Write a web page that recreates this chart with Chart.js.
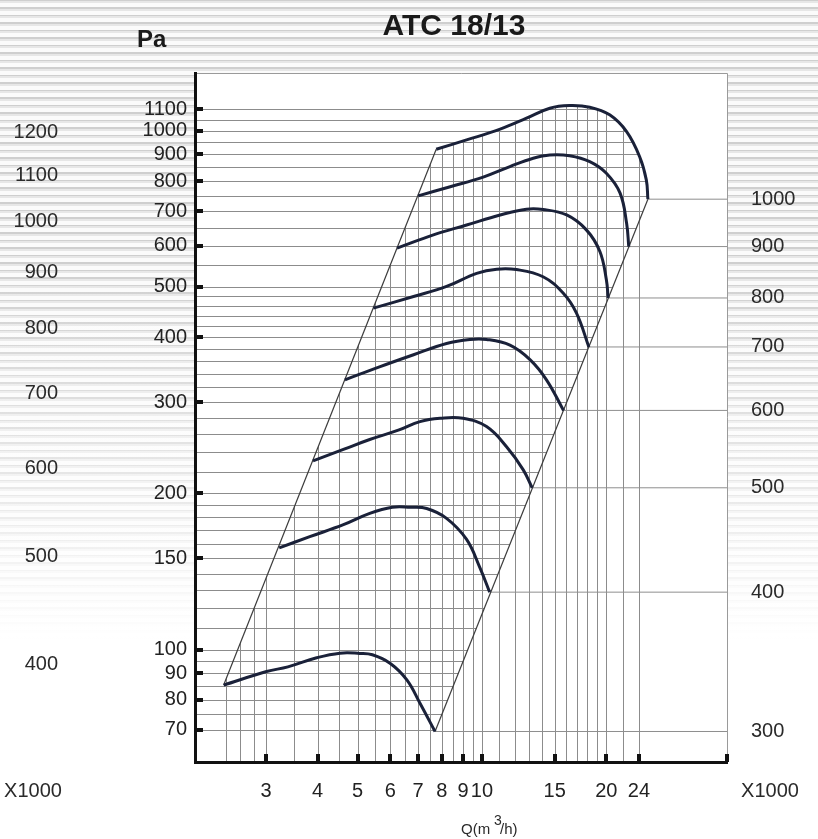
<!DOCTYPE html>
<html>
<head>
<meta charset="utf-8">
<title>ATC 18/13</title>
<script src="https://cdn.jsdelivr.net/npm/chart.js@4.4.1/dist/chart.umd.min.js"></script>
<style>
  html, body { margin: 0; padding: 0; }
  body {
    width: 818px;
    height: 839px;
    background:
      linear-gradient(to bottom, rgba(255,255,255,0) 260px, rgba(255,255,255,0.55) 500px, #fff 640px),
      repeating-linear-gradient(to bottom, #cfcfcf 0, #cfcfcf 1.5px, #e7e7e7 1.5px, #e7e7e7 3.5px, #fbfbfb 3.5px, #fbfbfb 7.5px);
  }
  canvas { display: block; }
</style>
</head>
<body>
<canvas id="chart" width="818" height="839"></canvas>
<script>
// Q in 1000 m3/h, P in Pa, one curve per fan speed
const CURVE_1000 = [[7.75, 921], [9.18, 960], [11.07, 1007], [12.82, 1057], [14.6, 1105], [16.3, 1118], [18.24, 1110], [20.38, 1073], [22.4, 996], [24.09, 891], [25.0, 804], [25.22, 738]]
const CURVE_900 = [[7.01, 749], [8.38, 780], [10.07, 814], [11.69, 853], [13.31, 885], [14.6, 898], [16.3, 895], [18.24, 872], [20.01, 828], [21.6, 758], [22.4, 663], [22.67, 598]]
const CURVE_800 = [[6.23, 594], [7.63, 630], [9.18, 658], [11.07, 688], [12.82, 706], [14.06, 705], [16.04, 688], [17.9, 644], [19.3, 585], [20.01, 516], [20.21, 476]]
const CURVE_700 = [[5.46, 455], [6.83, 479], [8.21, 501], [9.71, 531], [10.86, 541], [12.12, 540], [14.06, 523], [15.74, 486], [16.94, 445], [18.15, 383]]
const CURVE_600 = [[4.66, 331], [5.67, 351], [6.83, 370], [8.21, 389], [9.35, 396], [10.26, 396], [11.69, 386], [13.07, 362], [14.33, 331], [15.76, 289]]
const CURVE_500 = [[3.9, 231], [4.62, 243], [5.35, 254], [6.3, 265], [7.08, 275], [7.92, 279], [9.0, 279], [10.26, 269], [11.47, 246], [12.59, 222], [13.23, 205]]
const CURVE_400 = [[3.23, 157], [3.83, 165], [4.62, 174], [5.35, 183], [6.07, 188], [6.7, 188], [7.35, 187], [8.21, 179], [9.18, 163], [9.88, 144], [10.44, 129]]
const CURVE_300 = [[2.37, 85.4], [3.01, 90.7], [3.39, 92.6], [3.98, 96.4], [4.53, 98.4], [5.06, 98.3], [5.43, 97.7], [5.99, 94.1], [6.58, 87.4], [7.08, 78.8], [7.7, 69.5]]

const RPM = [1000, 900, 800, 700, 600, 500, 400, 300]

// axis ticks and grid
const Q_TICKS = [3, 4, 5, 6, 7, 8, 9, 10, 15, 20, 24]
const P_TICKS = [70, 80, 90, 100, 150, 200, 300, 400, 500, 600, 700, 800, 900, 1000, 1100]
const SPEED_TICKS = [400, 500, 600, 700, 800, 900, 1000, 1100, 1200]
const Q_GRID = [2.4, 2.6, 2.8, 3, 3.5, 4, 4.5, 5, 5.5, 6, 6.5, 7, 7.5, 8, 8.5, 9, 9.5, 10, 11, 12, 13, 14, 15, 16, 17, 18, 19, 20, 22, 24]
const P_GRID = [70, 75, 80, 85, 90, 95, 100, 110, 120, 130, 140, 150, 160, 170, 180, 190, 200, 220, 240, 260, 280, 300, 320, 340, 360, 380, 400, 420, 440, 460, 480, 500, 550, 600, 650, 700, 750, 800, 850, 900, 950, 1000, 1050, 1100]

const Q_RANGE = [2.02, 39.2]
const P_RANGE = [60.7, 1292]
const SPEED_RANGE = [326.6, 1358.5]

const curves = [CURVE_1000, CURVE_900, CURVE_800, CURVE_700, CURVE_600, CURVE_500, CURVE_400, CURVE_300]

const FONT = "'Liberation Sans', Arial, sans-serif"
const toPoints = (pairs) => pairs.map(([x, y]) => ({ x, y }))
const first = (c) => c[0]
const last = (c) => c[c.length - 1]

// follow a drawn curve (with its bezier control points) into the current path
function tracePath(ctx, chart, meta, from) {
  if (typeof meta.dataset.updateControlPoints === 'function') {
    meta.dataset.updateControlPoints(chart.chartArea, 'x')
  }
  const pts = meta.data
  ctx.lineTo(pts[from].x, pts[from].y)
  for (let i = from + 1; i < pts.length; i++) {
    const a = pts[i - 1]
    const b = pts[i]
    if (a.cp2x === undefined || b.cp1x === undefined) ctx.lineTo(b.x, b.y)
    else ctx.bezierCurveTo(a.cp2x, a.cp2y, b.cp1x, b.cp1y, b.x, b.y)
  }
}

const plotGrid = {
  id: 'plotGrid',
  beforeDraw(chart) {
    const { ctx, chartArea: area, scales } = chart
    const top = chart.getDatasetMeta(0)
    const topPts = top.data
    const low = chart.getDatasetMeta(curves.length - 1).data
    const lowStart = low[0]
    const lowEnd = low[low.length - 1]
    const peak = CURVE_1000.reduce((best, p, i) => (p[1] > CURVE_1000[best][1] ? i : best), 0)

    ctx.save()
    ctx.fillStyle = '#fff'
    ctx.fillRect(area.left, area.top, area.right - area.left, area.bottom - area.top)
    ctx.strokeStyle = '#8c8c8c'
    ctx.lineWidth = 1

    // vertical lines: from the Q axis up to the left limit and the top curve
    ctx.save()
    ctx.beginPath()
    ctx.moveTo(lowStart.x, area.bottom)
    ctx.lineTo(lowStart.x, lowStart.y)
    tracePath(ctx, chart, top, 0)
    ctx.lineTo(topPts[topPts.length - 1].x, area.bottom)
    ctx.closePath()
    ctx.clip()
    ctx.beginPath()
    Q_GRID.forEach((q) => {
      const px = Math.round(scales.x.getPixelForValue(q)) + 0.5
      ctx.moveTo(px, area.top)
      ctx.lineTo(px, area.bottom)
    })
    ctx.stroke()
    ctx.restore()

    // horizontal lines: from the P axis across to the right limit
    ctx.save()
    ctx.beginPath()
    ctx.moveTo(area.left, area.top)
    ctx.lineTo(topPts[peak].x, area.top)
    tracePath(ctx, chart, top, peak)
    ctx.lineTo(lowEnd.x, lowEnd.y)
    ctx.lineTo(lowEnd.x, area.bottom)
    ctx.lineTo(area.left, area.bottom)
    ctx.closePath()
    ctx.clip()
    ctx.beginPath()
    P_GRID.forEach((p) => {
      const py = Math.round(scales.y.getPixelForValue(p)) + 0.5
      ctx.moveTo(area.left, py)
      ctx.lineTo(area.right, py)
    })
    ctx.stroke()
    ctx.restore()

    // thin frame on top and right
    ctx.strokeStyle = '#9a9a9a'
    ctx.beginPath()
    ctx.moveTo(area.left, area.top + 0.5)
    ctx.lineTo(area.right + 0.5, area.top + 0.5)
    ctx.lineTo(area.right + 0.5, area.bottom)
    ctx.stroke()
    ctx.restore()
  },
  afterDraw(chart) {
    const { ctx, chartArea: area, scales } = chart
    ctx.save()

    // tick marks sit inside the plot
    ctx.fillStyle = '#111'
    P_TICKS.forEach((p) => {
      const py = Math.round(scales.y.getPixelForValue(p))
      ctx.fillRect(area.left, py - 2, 8, 4)
    })
    ;[...Q_TICKS, Q_RANGE[1]].forEach((q) => {
      const px = Math.round(scales.x.getPixelForValue(q))
      ctx.fillRect(px - 2, area.bottom - 8, 4, 8)
    })

    ctx.fillStyle = '#1a1a1a'
    ctx.textBaseline = 'alphabetic'
    ctx.textAlign = 'center'
    ctx.font = `bold 30px ${FONT}`
    ctx.fillText('ATC 18/13', 454, 35)
    ctx.textAlign = 'left'
    ctx.font = `bold 24px ${FONT}`
    ctx.fillText('Pa', 137, 47)

    ctx.fillStyle = '#2a2a2a'
    ctx.textAlign = 'center'
    ctx.font = `20px ${FONT}`
    ctx.fillText('X1000', 33, 797)
    ctx.fillText('X1000', 770, 797)

    ctx.textAlign = 'left'
    ctx.font = `15px ${FONT}`
    ctx.fillText('Q(m', 461, 834)
    ctx.fillText('/h)', 500, 834)
    ctx.font = `14px ${FONT}`
    ctx.fillText('3', 494, 825)
    ctx.restore()
  },
}

const datasets = [
  ...curves.map((c, i) => ({
    label: RPM[i] + ' rpm',
    data: toPoints(c),
    borderColor: '#1a2139',
    borderWidth: 3,
    tension: 0.4,
    pointRadius: 0,
    yAxisID: 'y',
  })),
  {
    label: 'left limit',
    data: toPoints([first(CURVE_300), first(CURVE_1000)]),
    borderColor: '#3c3c3c',
    borderWidth: 1.2,
    pointRadius: 0,
    yAxisID: 'y',
  },
  {
    label: 'right limit',
    data: toPoints([last(CURVE_300), last(CURVE_1000)]),
    borderColor: '#3c3c3c',
    borderWidth: 1.2,
    pointRadius: 0,
    yAxisID: 'y',
  },
  // speed marker lines from each curve end to the right edge
  ...curves.map((c, i) => ({
    label: RPM[i] + ' marker',
    data: [{ x: last(c)[0], y: last(c)[1] }, { x: Q_RANGE[1], y: last(c)[1] }],
    borderColor: '#8e8e8e',
    borderWidth: 1,
    pointRadius: 0,
    yAxisID: 'y',
  })),
]

const tickFont = { family: FONT, size: 20 }

new Chart(document.getElementById('chart'), {
  type: 'line',
  data: { datasets },
  options: {
    responsive: false,
    animation: false,
    events: [],
    layout: { padding: { top: 73, left: 0, right: 0, bottom: 0 } },
    plugins: {
      legend: { display: false },
      tooltip: { enabled: false },
    },
    scales: {
      x: {
        type: 'logarithmic',
        position: 'bottom',
        min: Q_RANGE[0],
        max: Q_RANGE[1],
        grid: { display: false, drawTicks: false },
        border: { display: true, color: '#111', width: 3 },
        ticks: { autoSkip: false, maxRotation: 0, padding: 17, color: '#222', font: tickFont, callback: (v) => String(v) },
        afterBuildTicks: (axis) => { axis.ticks = Q_TICKS.map((value) => ({ value })) },
        afterFit: (axis) => { axis.height = 77 },
      },
      y: {
        type: 'logarithmic',
        position: 'left',
        min: P_RANGE[0],
        max: P_RANGE[1],
        grid: { display: false, drawTicks: false },
        border: { display: true, color: '#111', width: 3 },
        ticks: { autoSkip: false, padding: 8, color: '#222', font: tickFont, callback: (v) => String(v) },
        afterBuildTicks: (axis) => { axis.ticks = P_TICKS.map((value) => ({ value })) },
        afterFit: (axis) => { axis.width = 115 },
      },
      speed: {
        type: 'logarithmic',
        position: 'left',
        weight: 1,
        min: SPEED_RANGE[0],
        max: SPEED_RANGE[1],
        grid: { display: false, drawTicks: false },
        border: { display: false },
        ticks: { autoSkip: false, padding: 22, color: '#2a2a2a', font: tickFont, callback: (v) => String(v) },
        afterBuildTicks: (axis) => { axis.ticks = SPEED_TICKS.map((value) => ({ value })) },
        afterFit: (axis) => { axis.width = 80 },
      },
      rpm: {
        type: 'logarithmic',
        position: 'right',
        min: P_RANGE[0],
        max: P_RANGE[1],
        grid: { display: false, drawTicks: false },
        border: { display: false },
        ticks: { autoSkip: false, padding: 24, color: '#2a2a2a', font: tickFont, callback: (v, i) => String(RPM[i]) },
        afterBuildTicks: (axis) => { axis.ticks = curves.map((c) => ({ value: last(c)[1] })) },
        afterFit: (axis) => { axis.width = 91 },
      },
    },
  },
  plugins: [plotGrid],
})
</script>
</body>
</html>
